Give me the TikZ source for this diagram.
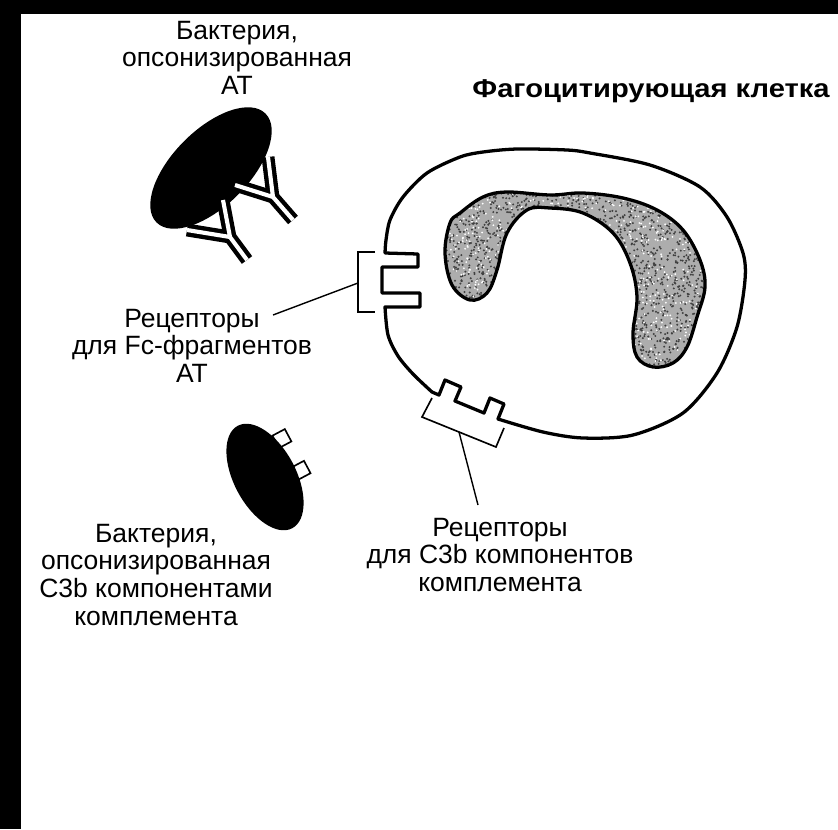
\documentclass[tikz,border=0pt]{standalone}
\usepackage{fontspec}
\setmainfont{Liberation Sans}
\usetikzlibrary{positioning}

\def\nucleuspath{plot[smooth cycle, tension=0.6] coordinates {
    (450,223) (445,253) (452,285) (470,300) (487,293) (497,270) (507,233)
    (527,210) (550,208) (583,213) (613,233) (630,263) (637,297) (633,333)
    (637,357) (653,367) (673,363) (687,347) (697,317) (705,287) (700,260)
    (683,230) (657,210) (623,198) (583,193) (550,195) (507,192) (483,197)
    (460,213)}}

\begin{document}
\begin{tikzpicture}[x=0.03cm, y=-0.03cm,
  membrane/.style={line width=2.8pt, line join=round, line cap=round},
  receptor/.style={line width=1.4pt},
  leader/.style={line width=1.2pt},
  antibody/.style={white, line width=3.5pt, preaction={draw=black, line width=11pt}},
  caption/.style={align=center, inner sep=0pt, anchor=north,
    font=\fontsize{22.6}{23.5}\selectfont}]

  % page and dark edges
  \useasboundingbox (0,0) rectangle (838,829);
  \fill[white] (0,0) rectangle (838,829);
  \fill[black] (0,0) rectangle (21,829);
  \fill[black] (0,0) rectangle (838,14);

  % nucleus, grainy grey
  \begin{scope}
    \clip \nucleuspath;
    \fill[black!32] (440,185) rectangle (710,372);
    \pgfmathsetseed{7}
    \foreach \i in {1,...,2600}
      \fill[black!75] (440+270*rnd, 185+187*rnd) circle (1.1);
    \foreach \i in {1,...,900}
      \fill[white] (440+270*rnd, 185+187*rnd) circle (1);
  \end{scope}
  \draw[membrane] \nucleuspath;

  % cell membrane with the Fc and C3b sockets
  \draw[membrane] (385,253) -- (418,254) -- (418,267) -- (382,267)
    -- (382,293) -- (420,293) -- (420,307) -- (385,307)
    -- plot[smooth] coordinates {(385,307) (388,335) (398,356) (413,374) (432,392)}
    -- (439,395) -- (445,380) -- (461,387) -- (455,401)
    -- (484,413) -- (490,398) -- (504,404) -- (498,419)
    -- plot[smooth] coordinates {(498,419) (543,432) (583,438) (633,435)
      (683,413) (717,373) (737,327) (745,280) (743,253) (727,217) (700,187)
      (650,165) (590,153) (567,150) (517,149) (483,152) (460,157) (427,173)
      (403,197) (390,220) (386,240) (385,253)};

  % receptor brackets
  \draw[receptor] (375,252) -- (358,252) -- (358,312) -- (375,312);
  \draw[receptor] (432,398) -- (422,417) -- (496,447) -- (504,428);
  \coordinate (fcjoint) at (358,283);
  \coordinate (fctip) at (273,315);
  \coordinate (c3bjoint) at (459,432);
  \coordinate (c3btip) at (478,505);
  \draw[leader] (fcjoint) -- (fctip);
  \draw[leader] (c3bjoint) -- (c3btip);

  % bacterium with antibodies
  \fill[rotate around={45:(211,168)}] (211,168) ellipse [x radius=77, y radius=38];
  \draw[antibody] (268,157) -- (273,197) -- (293,220) (235,185) -- (273,197) -- (293,220);
  \draw[antibody] (223,200) -- (230,237) -- (247,260) (187,230) -- (230,237) -- (247,260);

  % bacterium with C3b
  \begin{scope}[shift={(265,477)}, rotate=-62]
    \filldraw[fill=white, receptor] (-26,-33) +(-7,-7) rectangle +(7,7);
    \filldraw[fill=white, receptor] (11,-35) +(-7,-7) rectangle +(7,7);
    \fill (0,0) ellipse [x radius=58, y radius=31];
  \end{scope}

  % labels
  \node[anchor=base, font=\bfseries\fontsize{22}{26}\selectfont] (phago) at (651,97)
    {\scalebox{1.13}[1]{Фагоцитирующая клетка}};
  \node[caption] (abbact) at (237,21) {Бактерия,\\опсонизированная\\АТ};
  \node[caption] (fclabel) at (192,309) {Рецепторы\\для Fc-фрагментов\\АТ};
  \node[caption] (c3bbact) at (156,524) {Бактерия,\\опсонизированная\\C3b компонентами\\комплемента};
  \node[caption] (c3blabel) at (500,518) {Рецепторы\\для C3b компонентов\\комплемента};
\end{tikzpicture}
\end{document}
